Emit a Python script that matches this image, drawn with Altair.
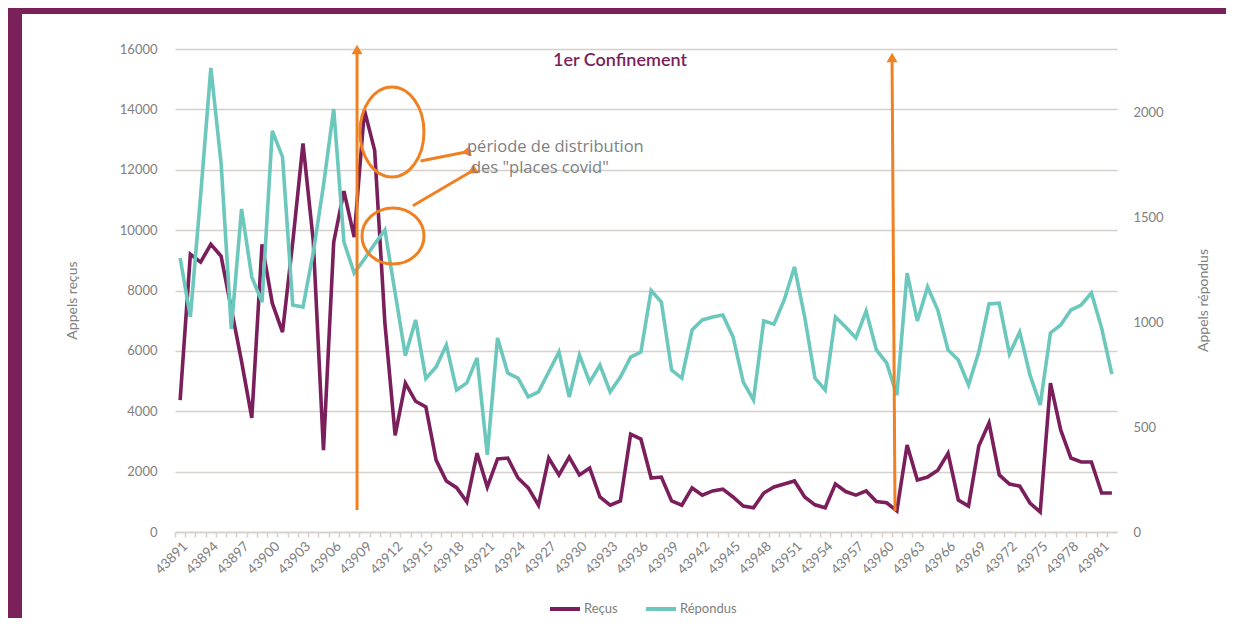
import altair as alt
import pandas as pd

# ---------------- data ----------------
jours = list(range(43891, 43983))
recus = [4370, 9200, 8940, 9530, 9140, 7400, 5650, 3780, 9530, 7580, 6620, 9600,
         12870, 9660, 2710, 9600, 11290, 9770, 13970, 12640, 6920, 3200, 4930, 4330,
         4140, 2380, 1690, 1470, 1000, 2610, 1490, 2420, 2450, 1790, 1460, 890,
         2450, 1890, 2480, 1890, 2120, 1160, 890, 1030, 3240, 3080, 1790, 1820,
         1030, 890, 1460, 1220, 1360, 1420, 1160, 860, 800, 1290, 1490, 1590,
         1690, 1160, 900, 800, 1590, 1340, 1220, 1360, 1010, 970, 700, 2880,
         1720, 1820, 2050, 2610, 1060, 860, 2850, 3610, 1890, 1590, 1520, 960,
         660, 4930, 3380, 2450, 2320, 2320, 1290, 1290]
repondus = [1305, 1024, 1600, 2210, 1757, 967, 1538, 1214, 1095, 1910, 1786, 1081,
            1071, 1330, 1650, 2014, 1381, 1233, 1300, 1371, 1438, 1138, 840, 1010,
            731, 786, 890, 676, 710, 829, 367, 924, 757, 733, 643, 667,
            762, 857, 643, 843, 714, 795, 667, 738, 833, 857, 1150, 1095,
            771, 733, 962, 1010, 1024, 1033, 929, 714, 629, 1005, 990, 1105,
            1262, 1024, 733, 676, 1024, 976, 924, 1052, 867, 805, 652, 1233,
            1005, 1167, 1057, 867, 819, 700, 857, 1086, 1090, 848, 952, 748,
            605, 948, 986, 1057, 1081, 1138, 971, 752]
series = ["Reçus", "Répondus"]
left_ticks = list(range(0, 16001, 2000))
right_ticks = [0, 500, 1000, 1500, 2000]

# annotations (x in day units, y in "Appels reçus" units)
arrow_x = [43908.28, 43960.53, 43918.92, 43919.51]
arrow_x2 = [43908.28, 43960.82, 43914.48, 43913.73]
arrow_y = [15983, 15718, 12588, 11958]
arrow_y2 = [729, 696, 12290, 10809]
head_angle = [0, 0, 258, 239]

ell_x = [43911.69, 43911.79]
ell_y = [13250, 9805]
ell_shape = ["M -0.711 0 A 0.711 1 0 1 0 0.711 0 A 0.711 1 0 1 0 -0.711 0 Z",
             "M -1 0 A 1 0.903 0 1 0 1 0 A 1 0.903 0 1 0 -1 0 Z"]
ell_size = [8100, 3844]

note_text = ["période de distribution", "des \"places covid\""]
note_x = [43919.02, 43919.41]
note_y = [12754, 12058]
title_text = ["1er Confinement"]
title_x = [43933.96]
title_y = [15602]

# ---------------- styles ----------------
PURPLE = "#7B1F5C"
TEAL = "#6CC7BC"
ORANGE = "#EF8122"
GREY = "#808080"
GRID = "#D5D0CC"
FRAME = "#7B2159"
FONT = "Lato"
XDOM = [43890.5, 43982.5]
STEP = 942 / 92

xscale = alt.Scale(domain=XDOM, nice=False, zero=False)
yann = alt.Scale(domain=[0, 16000], nice=False, zero=True)

df_r = pd.DataFrame({"jour": jours, "valeur": recus, "serie": series[0]})
df_p = pd.DataFrame({"jour": jours, "valeur": repondus, "serie": series[1]})

color = alt.Color("serie:N", scale=alt.Scale(domain=series, range=[PURPLE, TEAL]),
                  legend=alt.Legend(orient="none", legendX=373, legendY=543,
                                    direction="horizontal", title=None,
                                    symbolType="stroke", symbolSize=900,
                                    symbolStrokeWidth=4, labelFont=FONT,
                                    labelFontSize=13, labelColor=GREY,
                                    labelOffset=2, columnPadding=20))

x_axis = alt.Axis(values=jours, format="d",
                  labelExpr="(datum.value - 43891) % 3 == 0 ? datum.label : ''",
                  labelAngle=315, labelFont=FONT, labelFontSize=13.5, labelColor=GREY,
                  labelOverlap=False, labelFlush=False, labelBound=False,
                  labelPadding=2, tickSize=5, tickColor=GRID, tickWidth=1.5,
                  tickOffset=-STEP / 2, labelOffset=STEP / 2,
                  domainColor=GRID, domainWidth=1.5, grid=False, title=None)


def xenc(field):
    return alt.X(field, scale=xscale, axis=x_axis, title=None)


# purple frame strips (decoration outside the plot area)
frame = alt.Chart(pd.DataFrame({"a": [0]})).mark_rect(color=FRAME).encode(
    x=alt.value(-170), x2=alt.value(-153), y=alt.value(-45), y2=alt.value(580))
frame_top = alt.Chart(pd.DataFrame({"a": [0]})).mark_rect(color=FRAME).encode(
    x=alt.value(-170), x2=alt.value(1060), y=alt.value(-45), y2=alt.value(-35))

line_r = alt.Chart(df_r).mark_line(strokeWidth=3.6).encode(
    x=xenc("jour:Q"),
    y=alt.Y("valeur:Q", scale=alt.Scale(domain=[0, 16000], nice=False),
            axis=alt.Axis(orient="left", values=left_ticks, format="d", grid=True,
                          gridColor=GRID, gridWidth=1.5, domain=False, ticks=False,
                          labelPadding=18, labelFont=FONT, labelFontSize=13,
                          labelColor=GREY, title="Appels reçus", titleFont=FONT,
                          titleFontSize=14, titleFontWeight="normal", titleColor=GREY,
                          titleX=-103, titleY=251, titleAngle=270, titleAlign="center",
                          titleBaseline="middle")),
    color=color)

line_p = alt.Chart(df_p).mark_line(strokeWidth=3.6).encode(
    x=xenc("jour:Q"),
    y=alt.Y("valeur:Q", scale=alt.Scale(domain=[0, 2300], nice=False),
            axis=alt.Axis(orient="right", values=right_ticks, format="d", grid=False,
                          domain=False, ticks=False, labelPadding=16,
                          labelFont=FONT, labelFontSize=13, labelColor=GREY,
                          title="Appels répondus", titleFont=FONT, titleFontSize=14,
                          titleFontWeight="normal", titleColor=GREY, titleX=86,
                          titleY=251, titleAngle=270, titleAlign="center",
                          titleBaseline="middle")),
    color=color)

df_arrow = pd.DataFrame({"jour": arrow_x, "x2": arrow_x2, "y": arrow_y, "y2": arrow_y2,
                         "a": head_angle})
rules = alt.Chart(df_arrow).mark_rule(color=ORANGE, strokeWidth=3).encode(
    x=xenc("jour:Q"), x2="x2:Q",
    y=alt.Y("y:Q", scale=yann, axis=None), y2="y2:Q")
heads = alt.Chart(df_arrow).mark_point(shape="triangle-up", filled=True, color=ORANGE,
                                       opacity=1, size=120).encode(
    x=xenc("jour:Q"),
    y=alt.Y("y:Q", scale=yann, axis=None),
    angle=alt.Angle("a:Q", scale=None))

df_ell = pd.DataFrame({"jour": ell_x, "y": ell_y, "shape": ell_shape, "s": ell_size})
ells = alt.Chart(df_ell).mark_point(filled=False, color=ORANGE, opacity=1,
                                    strokeWidth=3).encode(
    x=xenc("jour:Q"),
    y=alt.Y("y:Q", scale=yann, axis=None),
    shape=alt.Shape("shape:N", scale=None),
    size=alt.Size("s:Q", scale=None))

notes = alt.Chart(pd.DataFrame({"jour": note_x, "y": note_y, "t": note_text})).mark_text(
    align="left", baseline="middle", font="Open Sans", fontSize=16.5, color=GREY).encode(
    x=xenc("jour:Q"),
    y=alt.Y("y:Q", scale=yann, axis=None), text="t:N")

ttl = alt.Chart(pd.DataFrame({"jour": title_x, "y": title_y, "t": title_text})).mark_text(
    align="center", baseline="middle", font=FONT, fontSize=18, fontWeight=600,
    color=PURPLE).encode(
    x=xenc("jour:Q"),
    y=alt.Y("y:Q", scale=yann, axis=None), text="t:N")

chart = alt.layer(frame, frame_top, line_r, line_p, rules, heads, ells, notes, ttl).resolve_scale(
    y="independent").properties(
    width=942, height=483,
    padding={"left": 167, "top": 41, "right": 109, "bottom": 86},
    autosize=alt.AutoSizeParams(type="none"),
    background="white",
).configure_view(strokeWidth=0).configure_axisX(labelOverlap=False)

chart.save("out.html", embed_options={"renderer": "svg", "actions": False})
